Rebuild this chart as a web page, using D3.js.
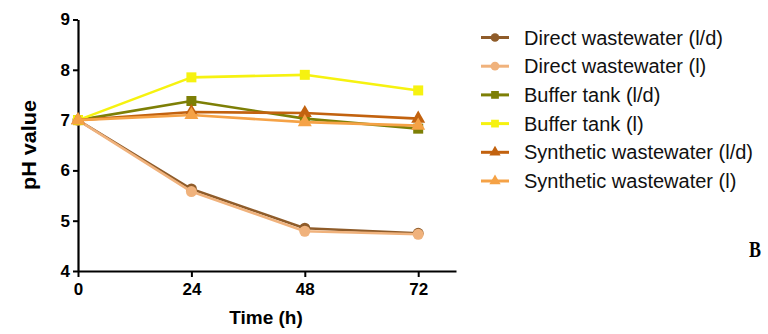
<!DOCTYPE html>
<html>
<head>
<meta charset="utf-8">
<script src="https://cdn.jsdelivr.net/npm/d3@7"></script>
<style>
  html, body { margin: 0; padding: 0; background: #fff; }
  svg { display: block; font-family: Arial, "Liberation Sans", sans-serif; }
</style>
</head>
<body>
<svg id="chart" width="768" height="334"></svg>
<script>
// Sampling times (h) and tick labels
const times = [0, 24, 48, 72];
const xTicks = [0, 24, 48, 72];
const yTicks = [4, 5, 6, 7, 8, 9];

// pH readings for each series
const directLD = [7.00, 5.63, 4.85, 4.75];
const directL = [7.00, 5.58, 4.79, 4.73];
const bufferLD = [7.00, 7.38, 7.03, 6.83];
const bufferL = [7.00, 7.85, 7.90, 7.59];
const syntheticLD = [7.00, 7.16, 7.14, 7.03];
const syntheticL = [7.00, 7.10, 6.96, 6.89];

const seriesNames = [
  "Direct wastewater (l/d)",
  "Direct wastewater (l)",
  "Buffer tank (l/d)",
  "Buffer tank (l)",
  "Synthetic wastewater (l/d)",
  "Synthetic wastewater (l)"
];
const seriesValues = [directLD, directL, bufferLD, bufferL, syntheticLD, syntheticL];
const seriesColors = ["#8f5c2a", "#f0b27c", "#7d7f06", "#f6f210", "#c2620f", "#f5a246"];
const seriesShapes = ["circle", "circle", "square", "square", "triangle", "triangle"];

const series = seriesNames.map((name, i) => ({
  name,
  color: seriesColors[i],
  shape: seriesShapes[i],
  points: times.map((t, j) => ({ t, v: seriesValues[i][j] }))
}));

const svg = d3.select("#chart");

const x = d3.scaleLinear().domain([0, 80]).range([78, 456]);
const y = d3.scaleLinear().domain([4, 9]).range([271, 19.5]);

const symbolFor = {
  circle: d3.symbol().type(d3.symbolCircle).size(95),
  square: d3.symbol().type(d3.symbolSquare).size(100),
  triangle: d3.symbol().type(d3.symbolTriangle).size(85)
};

// Axes
const xAxis = svg.append("g")
  .attr("transform", `translate(0,${y(4)})`)
  .call(d3.axisBottom(x).tickValues(xTicks).tickFormat(d3.format("d"))
    .tickSize(6).tickSizeOuter(0).tickPadding(6));
const yAxis = svg.append("g")
  .attr("transform", `translate(${x(0)},0)`)
  .call(d3.axisLeft(y).tickValues(yTicks).tickFormat(d3.format("d"))
    .tickSize(5).tickSizeOuter(0).tickPadding(3));

[xAxis, yAxis].forEach(g => {
  g.select(".domain").attr("stroke", "#000").attr("stroke-width", 2.2);
  g.selectAll(".tick line").attr("stroke", "#000").attr("stroke-width", 2);
  g.selectAll(".tick text")
    .attr("fill", "#000")
    .attr("font-family", "Arial, 'Liberation Sans', sans-serif")
    .attr("font-weight", "bold");
});
xAxis.selectAll(".tick text").attr("font-size", 17);
yAxis.selectAll(".tick text").attr("font-size", 17);

// Axis titles
svg.append("text")
  .attr("x", 266).attr("y", 324)
  .attr("text-anchor", "middle")
  .attr("font-size", 19).attr("font-weight", "bold")
  .text("Time (h)");

svg.append("text")
  .attr("transform", "translate(36,145) rotate(-90) scale(1.08,1)")
  .attr("text-anchor", "middle")
  .attr("font-size", 20).attr("font-weight", "bold")
  .text("pH value");

// Lines and markers
const line = d3.line().x(d => x(d.t)).y(d => y(d.v));

const sg = svg.append("g").selectAll("g.series")
  .data(series).join("g").attr("class", "series");

sg.append("path")
  .attr("d", d => line(d.points))
  .attr("fill", "none")
  .attr("stroke", d => d.color)
  .attr("stroke-width", 2.6)
  .attr("stroke-linejoin", "round");

sg.each(function(s) {
  d3.select(this).selectAll("path.pt")
    .data(s.points).join("path").attr("class", "pt")
    .attr("transform", d => `translate(${x(d.t)},${y(d.v)})`)
    .attr("d", symbolFor[s.shape]())
    .attr("fill", s.color);
});

// Legend
const legend = svg.append("g").attr("transform", "translate(481,37.5)");
const rows = legend.selectAll("g").data(series).join("g")
  .attr("transform", (d, i) => `translate(0,${i * 28.7})`);
rows.append("line")
  .attr("x1", 0).attr("x2", 28).attr("y1", 0).attr("y2", 0)
  .attr("stroke", d => d.color).attr("stroke-width", 3);
rows.append("path")
  .attr("transform", "translate(14,0)")
  .attr("d", d => d3.symbol().type(
    d.shape === "circle" ? d3.symbolCircle : d.shape === "square" ? d3.symbolSquare : d3.symbolTriangle
  ).size(d.shape === "triangle" ? 55 : 60)())
  .attr("fill", d => d.color);
rows.append("text")
  .attr("x", 43).attr("y", 0)
  .attr("dy", "0.35em")
  .attr("font-size", 20)
  .attr("fill", "#111")
  .text(d => d.name);

// Panel letter
svg.append("text")
  .attr("transform", "translate(755,257) scale(0.75,1)")
  .attr("text-anchor", "middle")
  .attr("font-family", "'Times New Roman', 'Liberation Serif', serif")
  .attr("font-weight", "bold")
  .attr("font-size", 24)
  .text("B");
</script>
</body>
</html>
